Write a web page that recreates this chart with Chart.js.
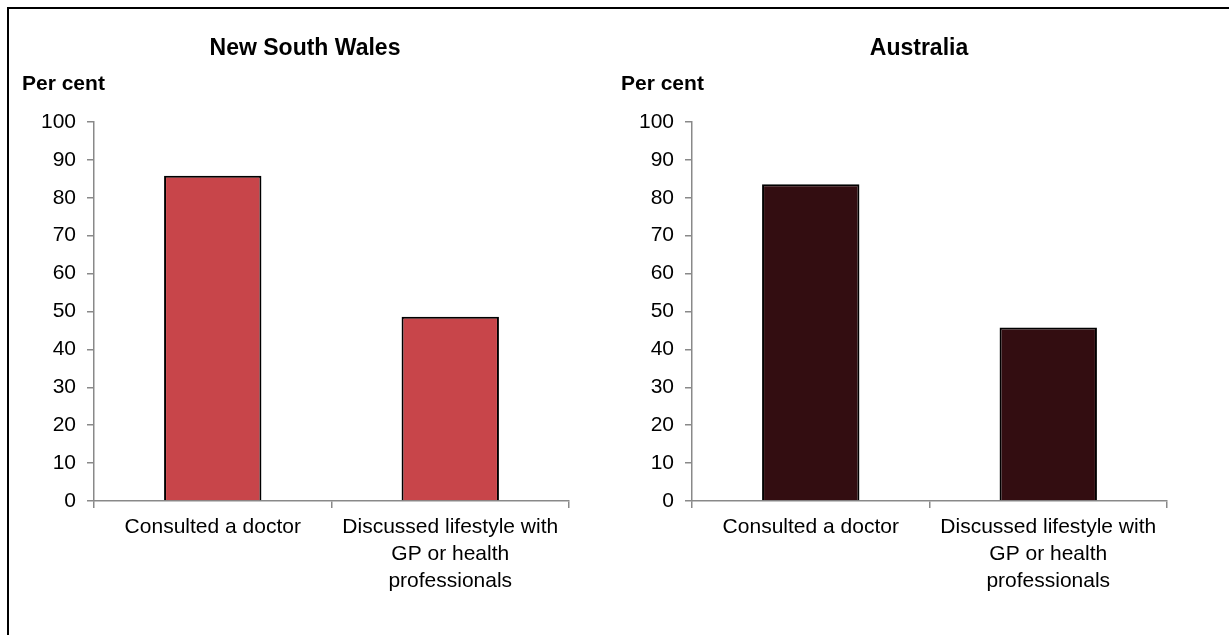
<!DOCTYPE html>
<html>
<head>
<meta charset="utf-8">
<script src="https://cdn.jsdelivr.net/npm/chart.js@4.4.1/dist/chart.umd.min.js"></script>
<style>
  html, body { margin:0; padding:0; background:#fff; width:1229px; height:635px; overflow:hidden; }
  #frame { position:absolute; left:7px; top:7px; width:1400px; height:800px; border:2px solid #000; box-sizing:border-box; }
  .wrap { position:absolute; top:0; height:635px; }
  #w1 { left:0; width:610px; }
  #w2 { left:610px; width:619px; }
</style>
</head>
<body>
<div id="frame"></div>
<div class="wrap" id="w1"><canvas id="c1"></canvas></div>
<div class="wrap" id="w2"><canvas id="c2"></canvas></div>
<script>
const categories = [["Consulted a doctor"], ["Discussed lifestyle with", "GP or health", "professionals"]];
const nswValues = [85.8, 48.6];
const ausValues = [83.6, 45.8];
const panelTitles = ["New South Wales", "Australia"];
const yAxisLabel = "Per cent";
const yTicks = [0, 10, 20, 30, 40, 50, 60, 70, 80, 90, 100];

const FONT = "Arial, 'Liberation Sans', sans-serif";
const AXIS = '#898989';

function headerPlugin(title, titleX, labelX) {
  return {
    id: 'header',
    afterDraw(chart) {
      const ctx = chart.ctx;
      ctx.save();
      ctx.fillStyle = '#000';
      ctx.textBaseline = 'middle';
      ctx.font = 'bold 23px ' + FONT;
      ctx.textAlign = 'center';
      ctx.fillText(title, titleX, 49);
      ctx.font = 'bold 21px ' + FONT;
      ctx.textAlign = 'left';
      ctx.fillText(yAxisLabel, labelX, 84);
      ctx.restore();
    }
  };
}

function makeChart(id, values, color, title, titleX, labelX, padLeft, padRight) {
  return new Chart(document.getElementById(id), {
    type: 'bar',
    data: {
      labels: categories,
      datasets: [{
        data: values,
        backgroundColor: color,
        borderColor: '#000',
        borderWidth: 2,
        borderSkipped: 'bottom',
        barPercentage: 0.41,
        categoryPercentage: 1.0
      }]
    },
    options: {
      responsive: true,
      maintainAspectRatio: false,
      animation: false,
      events: [],
      layout: { padding: { top: 122, left: padLeft, right: padRight, bottom: 34 } },
      plugins: { legend: { display: false }, title: { display: false }, tooltip: { enabled: false } },
      scales: {
        x: {
          offset: true,
          grid: { offset: true, drawOnChartArea: false, drawTicks: true, tickLength: 7, color: AXIS, lineWidth: 1.5 },
          border: { display: true, color: AXIS, width: 1.5 },
          ticks: { color: '#000', font: { family: FONT, size: 21, lineHeight: 1.28 }, padding: 6, maxRotation: 0, autoSkip: false },
          afterFit(s) { s.height = 100; }
        },
        y: {
          min: 0, max: 100,
          afterBuildTicks(s) { s.ticks = yTicks.map(v => ({ value: v })); },
          grid: { drawOnChartArea: false, drawTicks: true, tickLength: 7, color: AXIS, lineWidth: 1.5 },
          border: { display: true, color: AXIS, width: 1.5 },
          ticks: { color: '#000', font: { family: FONT, size: 21 }, padding: 11 },
          afterFit(s) { s.width = 60; }
        }
      }
    },
    plugins: [headerPlugin(title, titleX, labelX)]
  });
}

makeChart('c1', nswValues, '#C8454A', panelTitles[0], 305, 22, 34, 41);
makeChart('c2', ausValues, '#330D11', panelTitles[1], 309, 11, 22, 62);
</script>
</body>
</html>
